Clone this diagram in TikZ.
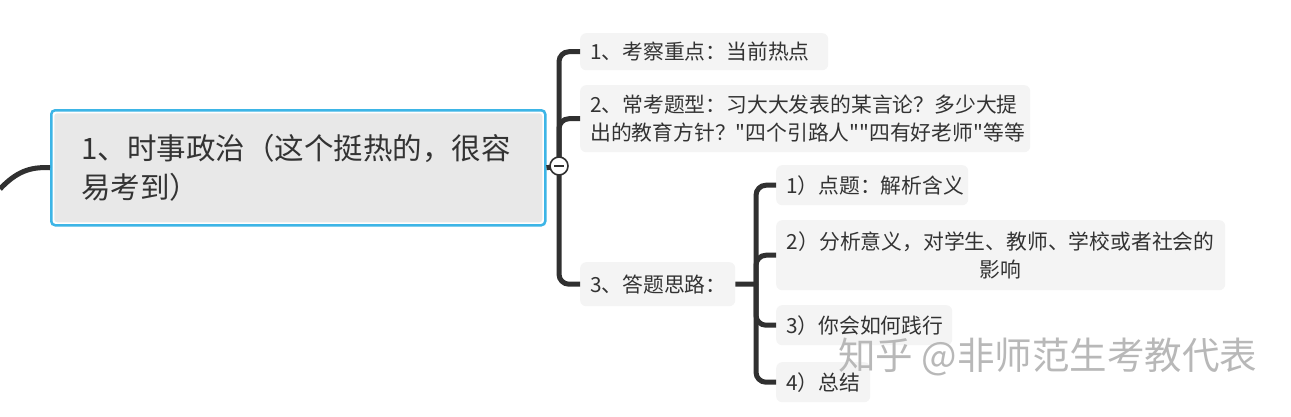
\documentclass[tikz,border=0pt]{standalone}
\usepackage{fontspec}
\setmainfont{Noto Sans CJK SC}[Ligatures=TeXOff]
\definecolor{lnk}{HTML}{303030}
\definecolor{txt}{HTML}{333333}
\definecolor{mblue}{HTML}{3DB5E6}
\definecolor{mgray}{HTML}{E8E8E8}
\definecolor{bgray}{HTML}{F4F4F4}
\definecolor{wmark}{HTML}{B8B8B8}
\tikzset{
  link/.style={draw=lnk, line width=5pt, rounded corners=10pt},
  sub/.style={fill=bgray, rounded corners=6pt, anchor=north west, inner xsep=10pt, inner ysep=0pt,
              text=txt, font=\fontsize{20.8}{28}\selectfont, align=left},
  mainbox/.style={draw=mblue, line width=2.5pt, fill=white, rounded corners=4pt, anchor=north west,
              inner xsep=30pt, inner ysep=0pt, text=txt, font=\fontsize{29.5}{39}\selectfont, align=left,
              path picture={\fill[mgray, rounded corners=3pt]
                ([shift={(3pt,-3pt)}]path picture bounding box.north west) rectangle
                ([shift={(-3pt,3pt)}]path picture bounding box.south east);}},
}
\begin{document}
\begin{tikzpicture}[x=1pt,y=-1pt]
\useasboundingbox[fill=white] (0,0) rectangle (1291,416);

% main node
\node[mainbox, text width=434pt, minimum height=115pt] (main) at (50,109)
  {1、时事政治（这个挺热的，很容\\易考到）};

% children
\node[sub, text width=228pt, minimum height=37pt] (c1) at (580,33) {1、考察重点：当前热点};
\node[sub, text width=430pt, minimum height=67pt] (c2) at (580,85)
  {2、常考题型：习大大发表的某言论？多少大提\\出的教育方针？"四个引路人""四有好老师"等等};
\node[sub, text width=135pt, minimum height=44pt] (c3) at (580,262) {3、答题思路：};

% grandchildren
\node[sub, text width=172pt, minimum height=40pt] (g1) at (776,165) {1）点题：解析含义};
\node[sub, text width=429pt, minimum height=70pt, align=center] (g2) at (776,220)
  {2）分析意义，对学生、教师、学校或者社会的\\影响};
\node[sub, text width=156pt, minimum height=40pt] (g3) at (776,305) {3）你会如何践行};
\node[sub, text width=74pt, minimum height=40pt] (g4) at (776,362) {4）总结};

% coordinates
\coordinate (lft) at (0,189);
\coordinate (t1) at (559,166);
\coordinate (t2) at (756,284);

% connectors
\draw[link] (lft) .. controls (16,172) and (30,166.5) .. (main.west);
\draw[link] (main.east) -- (t1);
\draw[link] (t1) |- (c1.west);
\draw[link] (t1) |- (c2.west);
\draw[link] (t1) |- (c3.west);
\draw[link] (c3.east) -- (t2);
\draw[link] (t2) |- (g1.west);
\draw[link] (t2) |- (g2.west);
\draw[link] (t2) |- (g3.west);
\draw[link] (t2) |- (g4.west);

% collapse button
\node[circle, draw=lnk, line width=1.6pt, fill=white, minimum size=18pt, inner sep=0pt] (col) at (t1) {};
\draw[lnk, line width=2pt] ([xshift=-5pt]col.center) -- ([xshift=5pt]col.center);

% watermark
\node[anchor=west, text=wmark, font=\fontsize{37.5}{40}\selectfont, inner sep=0pt] (wm) at (838,357)
  {知乎 @非师范生考教代表};
\end{tikzpicture}
\end{document}
